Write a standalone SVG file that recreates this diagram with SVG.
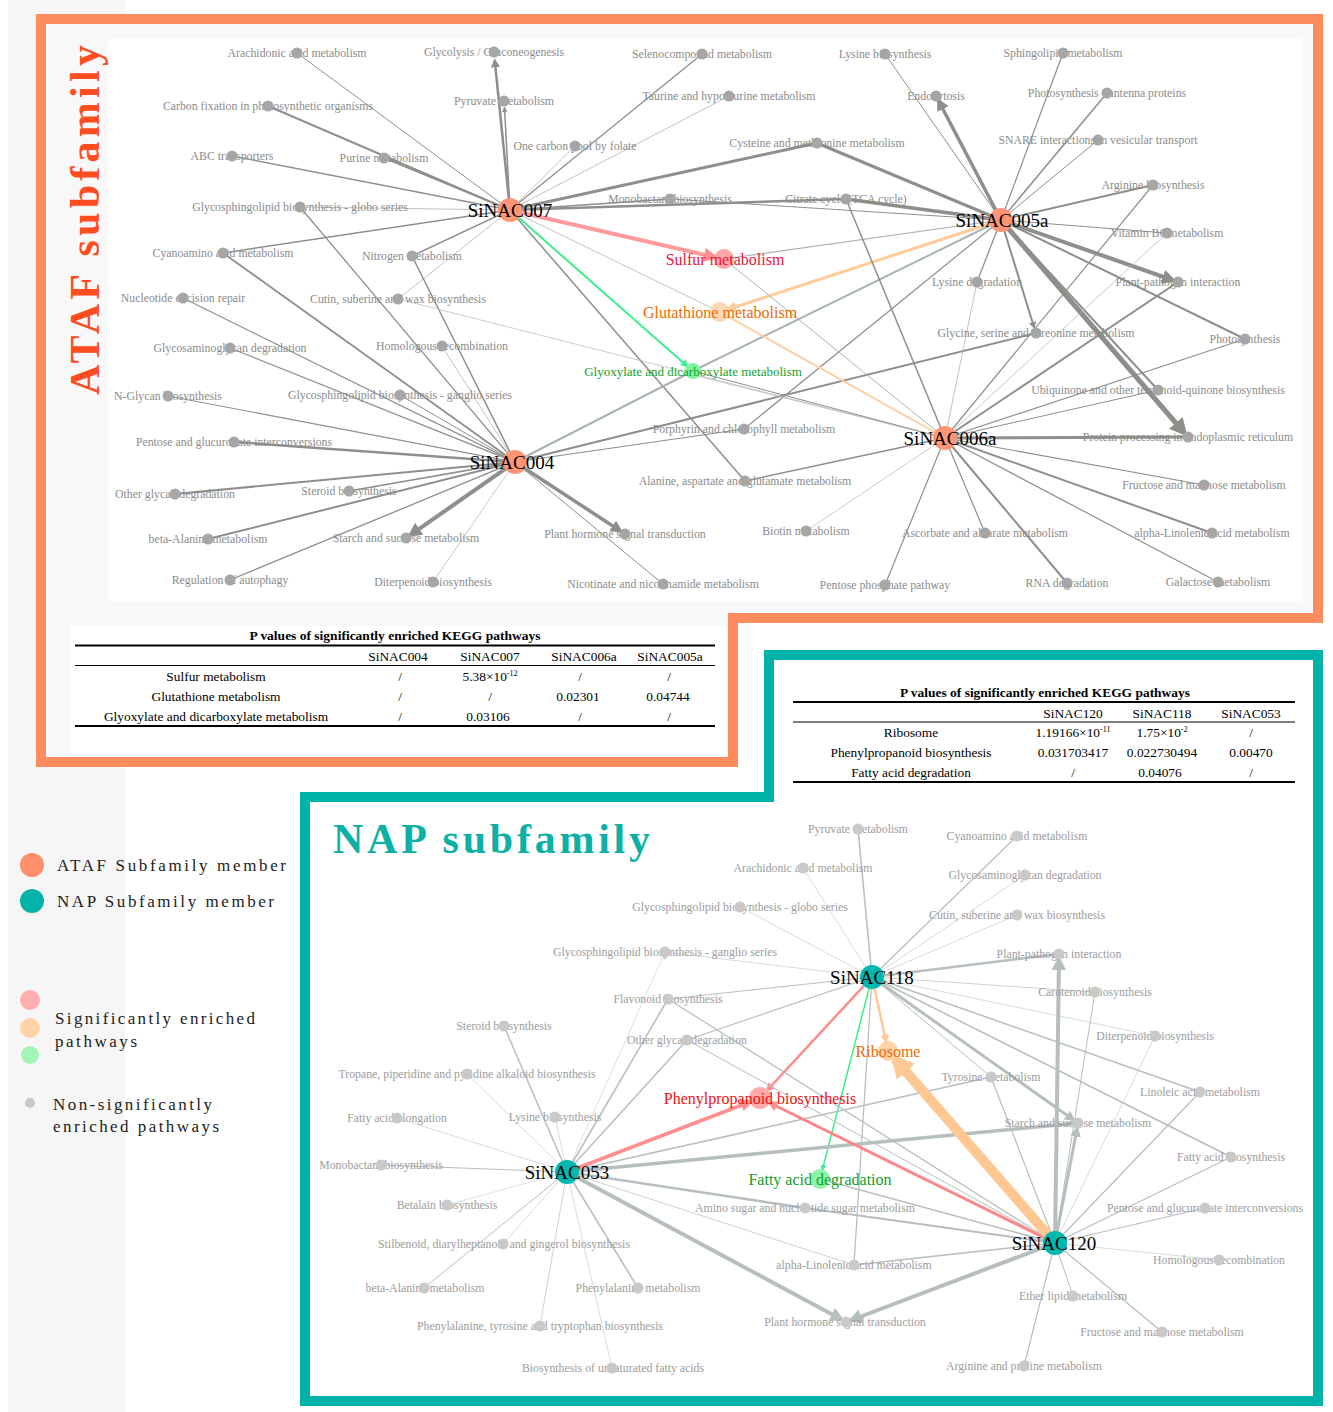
<svg xmlns="http://www.w3.org/2000/svg" width="1333" height="1412" viewBox="0 0 1333 1412">
<style>
.t{font-family:"Liberation Serif",serif;font-size:11.8px;fill:#8b8b8b;text-anchor:middle}
.tn{font-family:"Liberation Serif",serif;font-size:11.8px;fill:#9c9c9c;text-anchor:middle}
.h{font-family:"Liberation Serif",serif;font-size:19px;fill:#000;text-anchor:middle}
.g{fill:#a6a6a6}
.gn{fill:#c9c9c9}
.e{stroke:#8e8e8a;fill:none}
.el{stroke:#b4b4b4;fill:none}
.eb{stroke:#a9b3b3;fill:none}
.n{stroke:#b6bebe;fill:none}
.nl{stroke:#cdd2d2;fill:none}
.tb{font-family:"Liberation Serif",serif;font-size:13.4px;fill:#000;text-anchor:middle}
.lg{font-family:"Liberation Serif",serif;font-size:17px;fill:#222}
.en{font-family:"Liberation Serif",serif;font-size:16px;text-anchor:middle}
.en13{font-family:"Liberation Serif",serif;font-size:13px;text-anchor:middle}
</style>
<defs>
<marker id="ag" viewBox="0 0 10 10" refX="7" refY="5" markerWidth="3.6" markerHeight="3.6" orient="auto" markerUnits="strokeWidth"><path d="M0,0L10,5L0,10z" fill="#8e8e8a"/></marker>
<marker id="an" viewBox="0 0 10 10" refX="7" refY="5" markerWidth="3.6" markerHeight="3.6" orient="auto" markerUnits="strokeWidth"><path d="M0,0L10,5L0,10z" fill="#b6bebe"/></marker>
<marker id="ap" viewBox="0 0 10 10" refX="7" refY="5" markerWidth="3.6" markerHeight="3.6" orient="auto" markerUnits="strokeWidth"><path d="M0,0L10,5L0,10z" fill="#ff8f8f"/></marker>
<marker id="ao" viewBox="0 0 10 10" refX="7" refY="5" markerWidth="3.6" markerHeight="3.6" orient="auto" markerUnits="strokeWidth"><path d="M0,0L10,5L0,10z" fill="#ffc996"/></marker>
<marker id="ao2" viewBox="0 0 10 10" refX="7" refY="5" markerWidth="2.4" markerHeight="2.4" orient="auto" markerUnits="strokeWidth"><path d="M0,0L10,5L0,10z" fill="#ffc996"/></marker>
<marker id="agr" viewBox="0 0 10 10" refX="7" refY="5" markerWidth="4" markerHeight="4" orient="auto" markerUnits="strokeWidth"><path d="M0,0L10,5L0,10z" fill="#3cef8a"/></marker>
</defs>
<rect width="1333" height="1412" fill="#fff"/>
<rect x="8" y="0" width="117" height="1412" fill="#f6f6f6"/>

<g id="frames">
<path d="M41 19H1318V618H733V762H41Z" fill="#f8f8f8" stroke="#ff8c5f" stroke-width="10"/>
<rect x="108" y="39" width="1195" height="562" fill="#fff"/>
<rect x="70" y="626" width="656" height="128" fill="#fff"/>
<path d="M305 797H769V655H1318V1401H305Z" fill="#fff" stroke="#00b3a8" stroke-width="10"/>
</g>

<text transform="translate(99,220) rotate(-90)" font-family="Liberation Serif,serif" font-weight="bold" font-size="42" fill="#ff4d1f" text-anchor="middle" textLength="350" lengthAdjust="spacing">ATAF subfamily</text>
<text x="333" y="853" font-family="Liberation Serif,serif" font-weight="bold" font-size="42" fill="#0db0a6" textLength="317" lengthAdjust="spacing">NAP subfamily</text>

<g id="legend">
<circle cx="32" cy="865" r="12" fill="#ff8f6b"/>
<text class="lg" x="57" y="871" textLength="229" lengthAdjust="spacing">ATAF Subfamily member</text>
<circle cx="32" cy="901" r="12" fill="#05b3ab"/>
<text class="lg" x="57" y="907" textLength="217" lengthAdjust="spacing">NAP Subfamily member</text>
<circle cx="30" cy="1000" r="10" fill="#ffadad"/>
<circle cx="30" cy="1028" r="10" fill="#ffd3a6"/>
<circle cx="30" cy="1055" r="9" fill="#a3f5b5"/>
<text class="lg" x="55" y="1024" textLength="200" lengthAdjust="spacing">Significantly enriched</text>
<text class="lg" x="55" y="1047" textLength="82" lengthAdjust="spacing">pathways</text>
<circle cx="30" cy="1103" r="5" fill="#c8c8c8"/>
<text class="lg" x="53" y="1110" textLength="159" lengthAdjust="spacing">Non-significantly</text>
<text class="lg" x="53" y="1132" textLength="166" lengthAdjust="spacing">enriched pathways</text>
</g>

<g id="table-ataf">
<text class="tb" x="395" y="640" font-weight="bold" style="font-size:12.5px" textLength="291" lengthAdjust="spacingAndGlyphs">P values of significantly enriched KEGG pathways</text>
<path d="M75 645.5H715" stroke="#000" stroke-width="2"/>
<text class="tb" x="398" y="660.5">SiNAC004</text>
<text class="tb" x="490" y="660.5">SiNAC007</text>
<text class="tb" x="584" y="660.5">SiNAC006a</text>
<text class="tb" x="670" y="660.5">SiNAC005a</text>
<path d="M75 665.5H715" stroke="#000" stroke-width="1"/>
<text class="tb" x="216" y="680.5">Sulfur metabolism</text>
<text class="tb" x="400" y="680.5">/</text>
<text class="tb" x="490" y="680.5">5.38×10<tspan font-size="8" dy="-5">-12</tspan></text>
<text class="tb" x="580" y="680.5">/</text>
<text class="tb" x="669" y="680.5">/</text>
<text class="tb" x="216" y="700.5">Glutathione metabolism</text>
<text class="tb" x="400" y="700.5">/</text>
<text class="tb" x="490" y="700.5">/</text>
<text class="tb" x="578" y="700.5">0.02301</text>
<text class="tb" x="668" y="700.5">0.04744</text>
<text class="tb" x="216" y="720.5">Glyoxylate and dicarboxylate metabolism</text>
<text class="tb" x="400" y="720.5">/</text>
<text class="tb" x="488" y="720.5">0.03106</text>
<text class="tb" x="580" y="720.5">/</text>
<text class="tb" x="669" y="720.5">/</text>
<path d="M75 726H715" stroke="#000" stroke-width="2"/>
</g>

<g id="table-nap">
<text class="tb" x="1045" y="696.5" font-weight="bold" style="font-size:12.5px" textLength="290" lengthAdjust="spacingAndGlyphs">P values of significantly enriched KEGG pathways</text>
<path d="M793 702H1295" stroke="#000" stroke-width="2"/>
<text class="tb" x="1073" y="717.5">SiNAC120</text>
<text class="tb" x="1162" y="717.5">SiNAC118</text>
<text class="tb" x="1251" y="717.5">SiNAC053</text>
<path d="M793 722H1295" stroke="#000" stroke-width="1"/>
<text class="tb" x="911" y="736.5">Ribosome</text>
<text class="tb" x="1073" y="736.5">1.19166×10<tspan font-size="8" dy="-5">-11</tspan></text>
<text class="tb" x="1162" y="736.5">1.75×10<tspan font-size="8" dy="-5">-2</tspan></text>
<text class="tb" x="1251" y="736.5">/</text>
<text class="tb" x="911" y="756.5">Phenylpropanoid biosynthesis</text>
<text class="tb" x="1073" y="756.5">0.031703417</text>
<text class="tb" x="1162" y="756.5">0.022730494</text>
<text class="tb" x="1251" y="756.5">0.00470</text>
<text class="tb" x="911" y="776.5">Fatty acid degradation</text>
<text class="tb" x="1073" y="776.5">/</text>
<text class="tb" x="1160" y="776.5">0.04076</text>
<text class="tb" x="1251" y="776.5">/</text>
<path d="M793 782H1295" stroke="#000" stroke-width="2"/>
</g>

<g id="connectors">
<!-- SiNAC007 -->
<path class="e" d="M510 210L297 53" stroke-width="1"/>
<path class="e" d="M510 210L494.8 61" stroke-width="2.5" marker-end="url(#ag)"/>
<path class="e" d="M510 210L504.5 108" stroke-width="1.5" marker-end="url(#ag)"/>
<path class="e" d="M510 210L268 106" stroke-width="2"/>
<path class="e" d="M510 210L232 156" stroke-width="1.3"/>
<path class="e" d="M510 210L384 158" stroke-width="1.8"/>
<path class="el" d="M510 210L575 146" stroke-width="0.8"/>
<path class="e" d="M510 210L702 54" stroke-width="1.3"/>
<path class="el" d="M510 210L729 96" stroke-width="0.8"/>
<path class="e" d="M510 210L817 143" stroke-width="3"/>
<path class="e" d="M510 210L670 199" stroke-width="1.3"/>
<path class="e" d="M510 210L846 199" stroke-width="2.5"/>
<path class="el" d="M510 210L300 207" stroke-width="0.8"/>
<path class="e" d="M510 210L223 253" stroke-width="1.5"/>
<path class="e" d="M510 210L412 256" stroke-width="1.5"/>
<path class="el" d="M510 210L398 299" stroke-width="0.8"/>
<path class="e" d="M510 210L745 481" stroke-width="1.5"/>
<path class="el" d="M510 210L720 312" stroke-width="0.8"/>
<path d="M510 210L714 257" stroke="#ff9a9a" stroke-width="4" fill="none" marker-end="url(#ap)"/>
<path d="M510 210L687 366" stroke="#3cef8a" stroke-width="2" fill="none" marker-end="url(#agr)"/>
<!-- SiNAC005a -->
<path class="e" d="M1001 220L817 143" stroke-width="3"/>
<path class="e" d="M1001 220L846 199" stroke-width="3.5"/>
<path class="e" d="M1001 220L670 199" stroke-width="1"/>
<path class="e" d="M1001 220L885 54" stroke-width="1"/>
<path class="e" d="M1001 220L938.8 101.3" stroke-width="3.5" marker-end="url(#ag)"/>
<path class="e" d="M1001 220L1063 53" stroke-width="1.2"/>
<path class="e" d="M1001 220L1107 93" stroke-width="1.5"/>
<path class="e" d="M1001 220L1098 140" stroke-width="1"/>
<path class="e" d="M1001 220L1153 185" stroke-width="2"/>
<path class="e" d="M1001 220L1167 233" stroke-width="1"/>
<path class="e" d="M1001 220L1172.3 280" stroke-width="4" marker-end="url(#ag)"/>
<path class="e" d="M1001 220L1245 339" stroke-width="2"/>
<path class="e" d="M1001 220L1158 390" stroke-width="2"/>
<path class="e" d="M1001 220L1184 432.5" stroke-width="5" marker-end="url(#ag)"/>
<path class="e" d="M1001 220L1034 327" stroke-width="2" marker-end="url(#ag)"/>
<path class="e" d="M1001 220L977 282" stroke-width="1.3"/>
<path class="eb" d="M1001 220L724 259" stroke-width="1.2"/>
<path class="eb" d="M1001 220L693 371" stroke-width="2"/>
<path class="e" d="M1001 220L744 429" stroke-width="1.2"/>
<path d="M1001 220L728.6 309.2" stroke="#ffcb99" stroke-width="3" fill="none" marker-end="url(#ao)"/>
<!-- SiNAC004 -->
<path class="e" d="M515 462L230 348" stroke-width="1.2"/>
<path class="el" d="M515 462L442 346" stroke-width="0.8"/>
<path class="e" d="M515 462L168 396" stroke-width="1.2"/>
<path class="e" d="M515 462L400 395" stroke-width="1"/>
<path class="e" d="M515 462L234 442" stroke-width="2.5"/>
<path class="e" d="M515 462L175 494" stroke-width="2"/>
<path class="e" d="M515 462L349 491" stroke-width="1.5"/>
<path class="e" d="M515 462L208 539" stroke-width="2"/>
<path class="e" d="M515 462L411 534.6" stroke-width="4" marker-end="url(#ag)"/>
<path class="e" d="M515 462L230 580" stroke-width="1.3"/>
<path class="el" d="M515 462L433 582" stroke-width="0.7"/>
<path class="e" d="M515 462L620 530.7" stroke-width="3.5" marker-end="url(#ag)"/>
<path class="e" d="M515 462L663 584" stroke-width="1"/>
<path class="e" d="M515 462L744 429" stroke-width="1.2"/>
<path class="e" d="M515 462L1036 333" stroke-width="2"/>
<path class="eb" d="M515 462L693 371" stroke-width="2"/>
<path class="e" d="M515 462L300 207" stroke-width="1.3"/>
<path class="e" d="M515 462L223 253" stroke-width="1.8"/>
<path class="e" d="M515 462L412 256" stroke-width="1.5"/>
<path class="e" d="M515 462L183 298" stroke-width="1.2"/>
<!-- SiNAC006a -->
<path class="e" d="M945 438L846 199" stroke-width="1.5"/>
<path class="el" d="M945 438L398 299" stroke-width="0.7"/>
<path class="e" d="M945 438L693 371" stroke-width="1"/>
<path class="el" d="M945 438L693 375" stroke-width="0.7"/>
<path class="eb" d="M945 438L724 259" stroke-width="1"/>
<path d="M945 438L720 312" stroke="#ffcfa3" stroke-width="2" fill="none"/>
<path class="el" d="M945 438L977 282" stroke-width="0.8"/>
<path class="e" d="M945 438L745 481" stroke-width="1.5"/>
<path class="el" d="M945 438L806 531" stroke-width="0.7"/>
<path class="e" d="M945 438L885 585" stroke-width="1.2"/>
<path class="e" d="M945 438L1153 185" stroke-width="1.2"/>
<path class="el" d="M945 438L1167 233" stroke-width="0.7"/>
<path class="e" d="M945 438L1178 282" stroke-width="2"/>
<path class="e" d="M945 438L1245 339" stroke-width="1.2"/>
<path class="e" d="M945 438L1158 390" stroke-width="1"/>
<path class="e" d="M945 438L1188 437" stroke-width="3"/>
<path class="e" d="M945 438L1204 485" stroke-width="1.2"/>
<path class="e" d="M945 438L1212 533" stroke-width="2"/>
<path class="e" d="M945 438L1218 582" stroke-width="1.2"/>
<path class="e" d="M945 438L1067 583" stroke-width="2"/>
<path class="e" d="M945 438L985 533" stroke-width="1.2"/>
<!-- SiNAC118 -->
<path class="n" d="M872 977L858 829" stroke-width="1.5"/>
<path class="nl" d="M872 977L803 868" stroke-width="0.8"/>
<path class="nl" d="M872 977L740 907" stroke-width="0.8"/>
<path class="nl" d="M872 977L665 952" stroke-width="0.8"/>
<path class="n" d="M872 977L1017 836" stroke-width="1.2"/>
<path class="nl" d="M872 977L1025 875" stroke-width="0.8"/>
<path class="nl" d="M872 977L1017 915" stroke-width="0.8"/>
<path class="n" d="M872 977L1059 954" stroke-width="2.5"/>
<path class="nl" d="M872 977L1095 992" stroke-width="1"/>
<path class="nl" d="M872 977L1155 1036" stroke-width="0.8"/>
<path class="n" d="M872 977L668 999" stroke-width="1"/>
<path class="n" d="M872 977L687 1040" stroke-width="1.2"/>
<path class="n" d="M872 977L991 1077" stroke-width="1"/>
<path class="n" d="M872 977L1200 1092" stroke-width="1.5"/>
<path class="n" d="M872 977L1231 1157" stroke-width="1.5"/>
<path class="n" d="M872 977L1073 1119.5" stroke-width="3" marker-end="url(#an)"/>
<path class="n" d="M872 977L854 1265" stroke-width="1.2"/>
<path d="M872 977L767.5 1090" stroke="#ff8a8a" stroke-width="2.5" fill="none" marker-end="url(#ap)"/>
<path d="M872 977L886 1041" stroke="#ffc996" stroke-width="2.5" fill="none" marker-end="url(#ao)"/>
<path d="M872 977L822.5 1169.3" stroke="#3cef8a" stroke-width="1.5" fill="none" marker-end="url(#agr)"/>
<!-- SiNAC053 -->
<path class="nl" d="M567 1172L397 1118" stroke-width="0.8"/>
<path class="nl" d="M567 1172L555 1117" stroke-width="0.8"/>
<path class="n" d="M567 1172L381 1165" stroke-width="1"/>
<path class="nl" d="M567 1172L447 1205" stroke-width="0.7"/>
<path class="nl" d="M567 1172L503 1244" stroke-width="0.8"/>
<path class="n" d="M567 1172L424 1288" stroke-width="1"/>
<path class="n" d="M567 1172L638 1288" stroke-width="1.5"/>
<path class="nl" d="M567 1172L540 1326" stroke-width="1"/>
<path class="nl" d="M567 1172L612 1368" stroke-width="0.8"/>
<path class="n" d="M567 1172L504 1026" stroke-width="1.5"/>
<path class="nl" d="M567 1172L467 1074" stroke-width="0.7"/>
<path class="nl" d="M567 1172L665 952" stroke-width="0.7"/>
<path class="n" d="M567 1172L668 999" stroke-width="1.5"/>
<path class="n" d="M567 1172L687 1040" stroke-width="1.5"/>
<path class="n" d="M567 1172L1078 1123" stroke-width="3.5"/>
<path class="n" d="M567 1172L991 1077" stroke-width="1.5"/>
<path class="n" d="M567 1172L805 1208" stroke-width="2.5"/>
<path class="nl" d="M567 1172L854 1265" stroke-width="1"/>
<path class="n" d="M567 1172L840.7 1319" stroke-width="4" marker-end="url(#an)"/>
<path d="M567 1172L749.7 1102" stroke="#ff8f8f" stroke-width="3.5" fill="none" marker-end="url(#ap)"/>
<!-- SiNAC120 -->
<path class="n" d="M1055 1243L1059 960" stroke-width="4" marker-end="url(#an)"/>
<path class="n" d="M1055 1243L1077 1129" stroke-width="3" marker-end="url(#an)"/>
<path class="n" d="M1055 1243L1095 992" stroke-width="1"/>
<path class="nl" d="M1055 1243L1155 1036" stroke-width="0.8"/>
<path class="n" d="M1055 1243L1200 1092" stroke-width="1.2"/>
<path class="n" d="M1055 1243L1231 1157" stroke-width="1.2"/>
<path class="n" d="M1055 1243L1205 1208" stroke-width="1.2"/>
<path class="nl" d="M1055 1243L1219 1260" stroke-width="0.8"/>
<path class="n" d="M1055 1243L1073 1296" stroke-width="1"/>
<path class="n" d="M1055 1243L1162 1332" stroke-width="1.2"/>
<path class="n" d="M1055 1243L1024 1366" stroke-width="1.2"/>
<path class="n" d="M1055 1243L854 1265" stroke-width="1.5"/>
<path class="n" d="M1055 1243L851.6 1320" stroke-width="4" marker-end="url(#an)"/>
<path class="n" d="M1055 1243L805 1208" stroke-width="2"/>
<path class="n" d="M1055 1243L820 1179" stroke-width="1.5"/>
<path class="n" d="M1055 1243L991 1077" stroke-width="1.2"/>
<path class="n" d="M1055 1243L668 999" stroke-width="1.2"/>
<path class="n" d="M1055 1243L687 1040" stroke-width="1"/>
<path d="M1055 1243L770 1103" stroke="#ff8484" stroke-width="3" fill="none" marker-end="url(#ap)"/>
<path d="M1055 1243L895 1059" stroke="#ffc792" stroke-width="10" fill="none" marker-end="url(#ao2)"/>
</g>

<g id="ataf-nodes">
<g id="a-arach"><text class="t" x="297" y="57">Arachidonic acid metabolism</text><circle class="g" cx="297" cy="53" r="5.5"/></g>
<g id="a-glycol"><text class="t" x="494" y="56">Glycolysis / Gluconeogenesis</text><circle class="g" cx="494" cy="52" r="5.5"/></g>
<g id="a-carbon"><text class="t" x="268" y="110">Carbon fixation in photosynthetic organisms</text><circle class="g" cx="268" cy="106" r="5.5"/></g>
<g id="a-pyruv"><text class="t" x="504" y="105">Pyruvate metabolism</text><circle class="g" cx="504" cy="101" r="5.5"/></g>
<g id="a-abc"><text class="t" x="232" y="160">ABC transporters</text><circle class="g" cx="232" cy="156" r="5.5"/></g>
<g id="a-purine"><text class="t" x="384" y="162">Purine metabolism</text><circle class="g" cx="384" cy="158" r="5.5"/></g>
<g id="a-onec"><text class="t" x="575" y="150">One carbon pool by folate</text><circle class="g" cx="575" cy="146" r="5.5"/></g>
<g id="a-globo"><text class="t" x="300" y="211">Glycosphingolipid biosynthesis - globo series</text><circle class="g" cx="300" cy="207" r="5.5"/></g>
<g id="a-cyano"><text class="t" x="223" y="257">Cyanoamino acid metabolism</text><circle class="g" cx="223" cy="253" r="5.5"/></g>
<g id="a-nitro"><text class="t" x="412" y="260">Nitrogen metabolism</text><circle class="g" cx="412" cy="256" r="5.5"/></g>
<g id="a-nucl"><text class="t" x="183" y="302">Nucleotide excision repair</text><circle class="g" cx="183" cy="298" r="5.5"/></g>
<g id="a-cutin"><text class="t" x="398" y="303">Cutin, suberine and wax biosynthesis</text><circle class="g" cx="398" cy="299" r="5.5"/></g>
<g id="a-gag"><text class="t" x="230" y="352">Glycosaminoglycan degradation</text><circle class="g" cx="230" cy="348" r="5.5"/></g>
<g id="a-homol"><text class="t" x="442" y="350">Homologous recombination</text><circle class="g" cx="442" cy="346" r="5.5"/></g>
<g id="a-nglyc"><text class="t" x="168" y="400">N-Glycan biosynthesis</text><circle class="g" cx="168" cy="396" r="5.5"/></g>
<g id="a-gang"><text class="t" x="400" y="399">Glycosphingolipid biosynthesis - ganglio series</text><circle class="g" cx="400" cy="395" r="5.5"/></g>
<g id="a-pent"><text class="t" x="234" y="446">Pentose and glucuronate interconversions</text><circle class="g" cx="234" cy="442" r="5.5"/></g>
<g id="a-oglyc"><text class="t" x="175" y="498">Other glycan degradation</text><circle class="g" cx="175" cy="494" r="5.5"/></g>
<g id="a-ster"><text class="t" x="349" y="495">Steroid biosynthesis</text><circle class="g" cx="349" cy="491" r="5.5"/></g>
<g id="a-bala"><text class="t" x="208" y="543">beta-Alanine metabolism</text><circle class="g" cx="208" cy="539" r="5.5"/></g>
<g id="a-starch"><text class="t" x="406" y="542">Starch and sucrose metabolism</text><circle class="g" cx="406" cy="538" r="5.5"/></g>
<g id="a-regaut"><text class="t" x="230" y="584">Regulation of autophagy</text><circle class="g" cx="230" cy="580" r="5.5"/></g>
<g id="a-diterp"><text class="t" x="433" y="586">Diterpenoid biosynthesis</text><circle class="g" cx="433" cy="582" r="5.5"/></g>
<g id="a-seleno"><text class="t" x="702" y="58">Selenocompound metabolism</text><circle class="g" cx="702" cy="54" r="5.5"/></g>
<g id="a-lysb"><text class="t" x="885" y="58">Lysine biosynthesis</text><circle class="g" cx="885" cy="54" r="5.5"/></g>
<g id="a-taur"><text class="t" x="729" y="100">Taurine and hypotaurine metabolism</text><circle class="g" cx="729" cy="96" r="5.5"/></g>
<g id="a-endo"><text class="t" x="936" y="100">Endocytosis</text><circle class="g" cx="936" cy="96" r="5.5"/></g>
<g id="a-cys"><text class="t" x="817" y="147">Cysteine and methionine metabolism</text><circle class="g" cx="817" cy="143" r="5.5"/></g>
<g id="a-mono"><text class="t" x="670" y="203">Monobactam biosynthesis</text><circle class="g" cx="670" cy="199" r="5.5"/></g>
<g id="a-citr"><text class="t" x="846" y="203">Citrate cycle (TCA cycle)</text><circle class="g" cx="846" cy="199" r="5.5"/></g>
<g id="a-sphing"><text class="t" x="1063" y="57">Sphingolipid metabolism</text><circle class="g" cx="1063" cy="53" r="5.5"/></g>
<g id="a-antenna"><text class="t" x="1107" y="97">Photosynthesis - antenna proteins</text><circle class="g" cx="1107" cy="93" r="5.5"/></g>
<g id="a-snare"><text class="t" x="1098" y="144">SNARE interactions in vesicular transport</text><circle class="g" cx="1098" cy="140" r="5.5"/></g>
<g id="a-argb"><text class="t" x="1153" y="189">Arginine biosynthesis</text><circle class="g" cx="1153" cy="185" r="5.5"/></g>
<g id="a-vitb6"><text class="t" x="1167" y="237">Vitamin B6 metabolism</text><circle class="g" cx="1167" cy="233" r="5.5"/></g>
<g id="a-pp"><text class="t" x="1178" y="286">Plant-pathogen interaction</text><circle class="g" cx="1178" cy="282" r="5.5"/></g>
<g id="a-lysd"><text class="t" x="977" y="286">Lysine degradation</text><circle class="g" cx="977" cy="282" r="5.5"/></g>
<g id="a-glyc"><text class="t" x="1036" y="337">Glycine, serine and threonine metabolism</text><circle class="g" cx="1036" cy="333" r="5.5"/></g>
<g id="a-photo"><text class="t" x="1245" y="343">Photosynthesis</text><circle class="g" cx="1245" cy="339" r="5.5"/></g>
<g id="a-ubiq"><text class="t" x="1158" y="394">Ubiquinone and other terpenoid-quinone biosynthesis</text><circle class="g" cx="1158" cy="390" r="5.5"/></g>
<g id="a-prot"><text class="t" x="1188" y="441">Protein processing in endoplasmic reticulum</text><circle class="g" cx="1188" cy="437" r="5.5"/></g>
<g id="a-fruc"><text class="t" x="1204" y="489">Fructose and mannose metabolism</text><circle class="g" cx="1204" cy="485" r="5.5"/></g>
<g id="a-alin"><text class="t" x="1212" y="537">alpha-Linolenic acid metabolism</text><circle class="g" cx="1212" cy="533" r="5.5"/></g>
<g id="a-asc"><text class="t" x="985" y="537">Ascorbate and aldarate metabolism</text><circle class="g" cx="985" cy="533" r="5.5"/></g>
<g id="a-rna"><text class="t" x="1067" y="587">RNA degradation</text><circle class="g" cx="1067" cy="583" r="5.5"/></g>
<g id="a-galac"><text class="t" x="1218" y="586">Galactose metabolism</text><circle class="g" cx="1218" cy="582" r="5.5"/></g>
<g id="a-porph"><text class="t" x="744" y="433">Porphyrin and chlorophyll metabolism</text><circle class="g" cx="744" cy="429" r="5.5"/></g>
<g id="a-ala"><text class="t" x="745" y="485">Alanine, aspartate and glutamate metabolism</text><circle class="g" cx="745" cy="481" r="5.5"/></g>
<g id="a-phorm"><text class="t" x="625" y="538">Plant hormone signal transduction</text><circle class="g" cx="625" cy="534" r="5.5"/></g>
<g id="a-biot"><text class="t" x="806" y="535">Biotin metabolism</text><circle class="g" cx="806" cy="531" r="5.5"/></g>
<g id="a-nicot"><text class="t" x="663" y="588">Nicotinate and nicotinamide metabolism</text><circle class="g" cx="663" cy="584" r="5.5"/></g>
<g id="a-pppath"><text class="t" x="885" y="589">Pentose phosphate pathway</text><circle class="g" cx="885" cy="585" r="5.5"/></g>
<g id="a-sulf"><circle cx="724" cy="259" r="10" fill="#ffa6a6"/><text class="en" x="725" y="264.5" fill="#e8153c">Sulfur metabolism</text></g>
<g id="a-gluta"><circle cx="720" cy="312" r="10" fill="#ffd9b5"/><text class="en" x="720" y="317.5" fill="#f06a00">Glutathione metabolism</text></g>
<g id="a-glyox"><circle cx="693" cy="371" r="8" fill="#7df5a0"/><text class="en13" x="693" y="375.5" fill="#14a02a">Glyoxylate and dicarboxylate metabolism</text></g>
<g id="SiNAC007"><circle cx="510" cy="210" r="12" fill="#ff9576"/><text class="h" x="510" y="216.5">SiNAC007</text></g>
<g id="SiNAC005a"><circle cx="1001" cy="220" r="12" fill="#ff9576"/><text class="h" x="1002" y="226.5">SiNAC005a</text></g>
<g id="SiNAC004"><circle cx="515" cy="462" r="12" fill="#ff9576"/><text class="h" x="512" y="468.5">SiNAC004</text></g>
<g id="SiNAC006a"><circle cx="945" cy="438" r="12" fill="#ff9576"/><text class="h" x="950" y="444.5">SiNAC006a</text></g>
</g>

<g id="nap-nodes">
<g id="n-pyr"><text class="tn" x="858" y="833">Pyruvate metabolism</text><circle class="gn" cx="858" cy="829" r="5.5"/></g>
<g id="n-cyano"><text class="tn" x="1017" y="840">Cyanoamino acid metabolism</text><circle class="gn" cx="1017" cy="836" r="5.5"/></g>
<g id="n-arach"><text class="tn" x="803" y="872">Arachidonic acid metabolism</text><circle class="gn" cx="803" cy="868" r="5.5"/></g>
<g id="n-gag"><text class="tn" x="1025" y="879">Glycosaminoglycan degradation</text><circle class="gn" cx="1025" cy="875" r="5.5"/></g>
<g id="n-globo"><text class="tn" x="740" y="911">Glycosphingolipid biosynthesis - globo series</text><circle class="gn" cx="740" cy="907" r="5.5"/></g>
<g id="n-cutin"><text class="tn" x="1017" y="919">Cutin, suberine and wax biosynthesis</text><circle class="gn" cx="1017" cy="915" r="5.5"/></g>
<g id="n-gang"><text class="tn" x="665" y="956">Glycosphingolipid biosynthesis - ganglio series</text><circle class="gn" cx="665" cy="952" r="5.5"/></g>
<g id="n-pp"><text class="tn" x="1059" y="958">Plant-pathogen interaction</text><circle class="gn" cx="1059" cy="954" r="5.5"/></g>
<g id="n-flav"><text class="tn" x="668" y="1003">Flavonoid biosynthesis</text><circle class="gn" cx="668" cy="999" r="5.5"/></g>
<g id="n-carot"><text class="tn" x="1095" y="996">Carotenoid biosynthesis</text><circle class="gn" cx="1095" cy="992" r="5.5"/></g>
<g id="n-ster"><text class="tn" x="504" y="1030">Steroid biosynthesis</text><circle class="gn" cx="504" cy="1026" r="5.5"/></g>
<g id="n-oglyc"><text class="tn" x="687" y="1044">Other glycan degradation</text><circle class="gn" cx="687" cy="1040" r="5.5"/></g>
<g id="n-diterp"><text class="tn" x="1155" y="1040">Diterpenoid biosynthesis</text><circle class="gn" cx="1155" cy="1036" r="5.5"/></g>
<g id="n-trop"><text class="tn" x="467" y="1078">Tropane, piperidine and pyridine alkaloid biosynthesis</text><circle class="gn" cx="467" cy="1074" r="5.5"/></g>
<g id="n-tyr"><text class="tn" x="991" y="1081">Tyrosine metabolism</text><circle class="gn" cx="991" cy="1077" r="5.5"/></g>
<g id="n-lino"><text class="tn" x="1200" y="1096">Linoleic acid metabolism</text><circle class="gn" cx="1200" cy="1092" r="5.5"/></g>
<g id="n-fael"><text class="tn" x="397" y="1122">Fatty acid elongation</text><circle class="gn" cx="397" cy="1118" r="5.5"/></g>
<g id="n-lys"><text class="tn" x="555" y="1121">Lysine biosynthesis</text><circle class="gn" cx="555" cy="1117" r="5.5"/></g>
<g id="n-starch"><text class="tn" x="1078" y="1127">Starch and sucrose metabolism</text><circle class="gn" cx="1078" cy="1123" r="5.5"/></g>
<g id="n-fab"><text class="tn" x="1231" y="1161">Fatty acid biosynthesis</text><circle class="gn" cx="1231" cy="1157" r="5.5"/></g>
<g id="n-mono"><text class="tn" x="381" y="1169">Monobactam biosynthesis</text><circle class="gn" cx="381" cy="1165" r="5.5"/></g>
<g id="n-betal"><text class="tn" x="447" y="1209">Betalain biosynthesis</text><circle class="gn" cx="447" cy="1205" r="5.5"/></g>
<g id="n-amino"><text class="tn" x="805" y="1212">Amino sugar and nucleotide sugar metabolism</text><circle class="gn" cx="805" cy="1208" r="5.5"/></g>
<g id="n-pent"><text class="tn" x="1205" y="1212">Pentose and glucuronate interconversions</text><circle class="gn" cx="1205" cy="1208" r="5.5"/></g>
<g id="n-stilb"><text class="tn" x="504" y="1248">Stilbenoid, diarylheptanoid and gingerol biosynthesis</text><circle class="gn" cx="503" cy="1244" r="5.5"/></g>
<g id="n-alin"><text class="tn" x="854" y="1269">alpha-Linolenic acid metabolism</text><circle class="gn" cx="854" cy="1265" r="5.5"/></g>
<g id="n-homol"><text class="tn" x="1219" y="1264">Homologous recombination</text><circle class="gn" cx="1219" cy="1260" r="5.5"/></g>
<g id="n-bala"><text class="tn" x="425" y="1292">beta-Alanine metabolism</text><circle class="gn" cx="424" cy="1288" r="5.5"/></g>
<g id="n-phe"><text class="tn" x="638" y="1292">Phenylalanine metabolism</text><circle class="gn" cx="638" cy="1288" r="5.5"/></g>
<g id="n-ether"><text class="tn" x="1073" y="1300">Ether lipid metabolism</text><circle class="gn" cx="1073" cy="1296" r="5.5"/></g>
<g id="n-phtt"><text class="tn" x="540" y="1330">Phenylalanine, tyrosine and tryptophan biosynthesis</text><circle class="gn" cx="540" cy="1326" r="5.5"/></g>
<g id="n-phorm"><text class="tn" x="845" y="1326">Plant hormone signal transduction</text><circle class="gn" cx="846" cy="1322" r="5.5"/></g>
<g id="n-fruc"><text class="tn" x="1162" y="1336">Fructose and mannose metabolism</text><circle class="gn" cx="1162" cy="1332" r="5.5"/></g>
<g id="n-bsuf"><text class="tn" x="613" y="1372">Biosynthesis of unsaturated fatty acids</text><circle class="gn" cx="612" cy="1368" r="5.5"/></g>
<g id="n-argp"><text class="tn" x="1024" y="1370">Arginine and proline metabolism</text><circle class="gn" cx="1024" cy="1366" r="5.5"/></g>
<g id="n-ribo"><circle cx="888" cy="1051" r="10" fill="#ffd3a8"/><text class="en" x="888" y="1057" fill="#f06a00">Ribosome</text></g>
<g id="n-phen"><circle cx="760" cy="1098" r="11" fill="#ffa9a9"/><text class="en" x="760" y="1104" fill="#f01010">Phenylpropanoid biosynthesis</text></g>
<g id="n-fad"><circle cx="820" cy="1179" r="10" fill="#8ef5a8"/><text class="en" x="820" y="1185" fill="#10a02a">Fatty acid degradation</text></g>
<g id="SiNAC118"><circle cx="872" cy="977" r="12" fill="#00b8b0"/><text class="h" x="872" y="983.5">SiNAC118</text></g>
<g id="SiNAC053"><circle cx="567" cy="1172" r="12" fill="#00b8b0"/><text class="h" x="567" y="1178.5">SiNAC053</text></g>
<g id="SiNAC120"><circle cx="1055" cy="1243" r="12" fill="#00b8b0"/><text class="h" x="1054" y="1249.5">SiNAC120</text></g>
</g>
</svg>
